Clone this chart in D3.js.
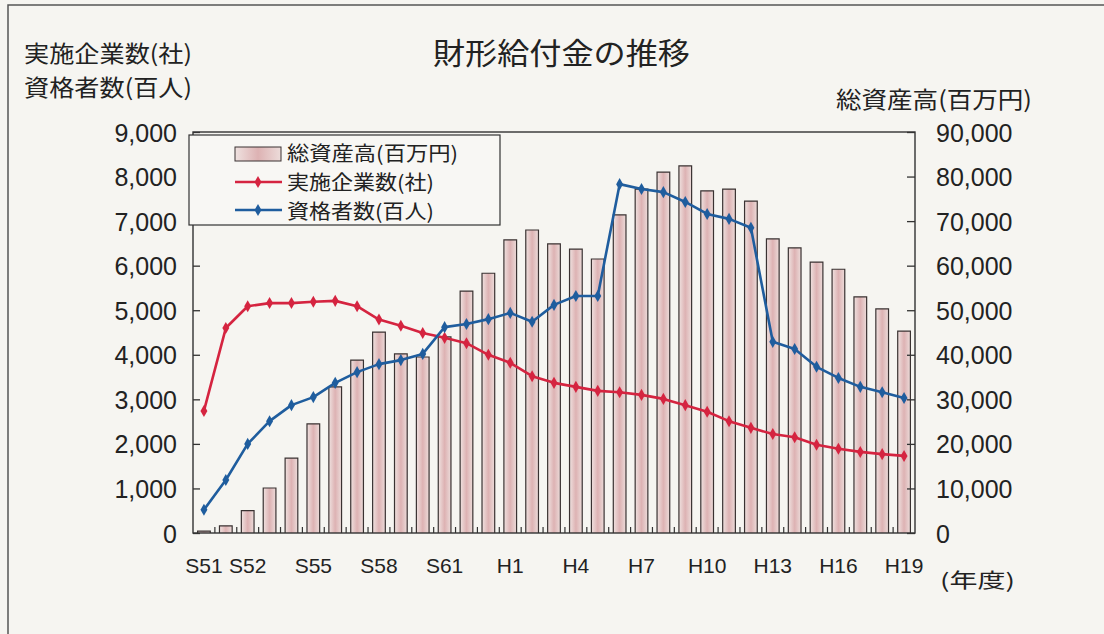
<!DOCTYPE html>
<html>
<head>
<meta charset="utf-8">
<script src="https://cdn.jsdelivr.net/npm/d3@7"></script>
<style>
  html, body { margin: 0; padding: 0; background: #f6f5f1; }
  svg { display: block; }
  .jp { font-family: "Noto Sans CJK JP", "Noto Sans", sans-serif; fill: #222; }
  .num { font-family: "Liberation Sans", Arial, sans-serif; fill: #222; }
</style>
</head>
<body>
<div id="chart"></div>
<script>
// fiscal years (33 bars in the picture)
var years = ["S50", "S51", "S52", "S53", "S54", "S55", "S56", "S57", "S58", "S59", "S60",
  "S61", "S62", "S63", "H1", "H2", "H3", "H4", "H5", "H6", "H7", "H8", "H9", "H10",
  "H11", "H12", "H13", "H14", "H15", "H16", "H17", "H18", "H19"];

// labels printed under the axis, one per bar ("" = no label)
var yearLabels = ["S51", "", "S52", "", "", "S55", "", "", "S58", "", "", "S61", "", "",
  "H1", "", "", "H4", "", "", "H7", "", "", "H10", "", "", "H13", "", "", "H16", "", "", "H19"];

// 総資産高(百万円) - bars, right axis
var totalAssets = [400, 1600, 5000, 10100, 16800, 24500, 32800, 38800, 45100, 40200, 39500,
  44000, 54300, 58300, 65800, 68000, 64900, 63700, 61500, 71400, 77200, 81000, 82400, 76800,
  77200, 74500, 66000, 64000, 60800, 59200, 53000, 50300, 45300];

// 実施企業数(社) - red line, left axis
var companies = [2740, 4600, 5090, 5160, 5160, 5190, 5210, 5090, 4790, 4650, 4490,
  4380, 4260, 4000, 3820, 3520, 3370, 3280, 3190, 3160, 3100, 3010, 2870, 2720,
  2510, 2360, 2220, 2150, 1980, 1890, 1820, 1770, 1730];

// 資格者数(百人) - blue line, left axis
var members = [520, 1190, 2000, 2510, 2870, 3050, 3370, 3610, 3790, 3880, 4020,
  4620, 4690, 4800, 4940, 4740, 5120, 5320, 5320, 7830, 7720, 7650, 7430, 7160,
  7050, 6850, 4290, 4130, 3730, 3480, 3280, 3160, 3030];

var leftTicks = [0, 1000, 2000, 3000, 4000, 5000, 6000, 7000, 8000, 9000];
var rightTicks = [0, 10000, 20000, 30000, 40000, 50000, 60000, 70000, 80000, 90000];

var svgWidth = 1104;
var svgHeight = 634;
var plot = { left: 193, right: 915, top: 132, bottom: 533 };

var svg = d3.select("#chart")
  .append("svg")
  .attr("width", svgWidth)
  .attr("height", svgHeight);

svg.append("rect")
  .attr("width", svgWidth)
  .attr("height", svgHeight)
  .attr("fill", "#f6f5f1");

// scanned page border
svg.append("path")
  .attr("d", "M8,634 L8,5 L1104,5")
  .attr("fill", "none")
  .attr("stroke", "#555")
  .attr("stroke-width", 1.5);

// scales
var x = d3.scaleBand()
  .domain(years)
  .range([plot.left, plot.right])
  .paddingInner(0.42)
  .paddingOuter(0.21);

var yLeft = d3.scaleLinear()
  .domain([0, 9000])
  .range([plot.bottom, plot.top]);

var yRight = d3.scaleLinear()
  .domain([0, 90000])
  .range([plot.bottom, plot.top]);

// bar gradient
var defs = svg.append("defs");
var grad = defs.append("linearGradient")
  .attr("id", "barFill")
  .attr("x1", "0%").attr("x2", "100%").attr("y1", "0%").attr("y2", "0%");
grad.append("stop").attr("offset", "0%").attr("stop-color", "#efe2e0");
grad.append("stop").attr("offset", "50%").attr("stop-color", "#ddb2b3");
grad.append("stop").attr("offset", "100%").attr("stop-color", "#ecdcda");

// bars
var bars = svg.append("g");
bars.selectAll("rect")
  .data(totalAssets)
  .enter()
  .append("rect")
  .attr("x", (d, i) => x(years[i]))
  .attr("y", d => yRight(d))
  .attr("width", x.bandwidth())
  .attr("height", d => plot.bottom - yRight(d))
  .attr("fill", "url(#barFill)");

bars.selectAll("path")
  .data(totalAssets)
  .enter()
  .append("path")
  .attr("d", function (d, i) {
    var x0 = x(years[i]), x1 = x0 + x.bandwidth(), y0 = yRight(d);
    return `M${x0},${plot.bottom} L${x0},${y0} L${x1},${y0} L${x1},${plot.bottom}`;
  })
  .attr("fill", "none")
  .attr("stroke", "#3a3232")
  .attr("stroke-width", 1.2);

// plot frame
svg.append("rect")
  .attr("x", plot.left)
  .attr("y", plot.top)
  .attr("width", plot.right - plot.left)
  .attr("height", plot.bottom - plot.top)
  .attr("fill", "none")
  .attr("stroke", "#333")
  .attr("stroke-width", 1.4);

// left axis
var leftAxis = svg.append("g")
  .attr("transform", `translate(${plot.left},0)`)
  .call(d3.axisLeft(yLeft).tickValues(leftTicks).tickSize(-7).tickPadding(16)
    .tickFormat(d3.format(",")));
leftAxis.select(".domain").remove();
leftAxis.selectAll("line").attr("stroke", "#333").attr("stroke-width", 1.3);
leftAxis.selectAll("text")
  .attr("class", "num")
  .attr("font-size", 25)
  .attr("dy", "0.36em");

// right axis
var rightAxis = svg.append("g")
  .attr("transform", `translate(${plot.right},0)`)
  .call(d3.axisRight(yRight).tickValues(rightTicks).tickSize(-8).tickPadding(21)
    .tickFormat(d3.format(",")));
rightAxis.select(".domain").remove();
rightAxis.selectAll("line").attr("stroke", "#333").attr("stroke-width", 1.3);
rightAxis.selectAll("text")
  .attr("class", "num")
  .attr("font-size", 25)
  .attr("dy", "0.36em");

// small ticks between bars on the x axis
var step = x.step();
var boundaries = years.map(d => x(d) + x.bandwidth() / 2 - step / 2);
svg.append("g")
  .selectAll("line")
  .data(boundaries.slice(1))
  .enter()
  .append("line")
  .attr("x1", d => d).attr("x2", d => d)
  .attr("y1", plot.bottom).attr("y2", plot.bottom - 6)
  .attr("stroke", "#333")
  .attr("stroke-width", 1.2);

// x labels
var bottomAxis = svg.append("g")
  .attr("transform", `translate(0,${plot.bottom})`)
  .call(d3.axisBottom(x).tickSize(0).tickPadding(25)
    .tickFormat((d, i) => yearLabels[i]));
bottomAxis.select(".domain").remove();
bottomAxis.selectAll("text")
  .attr("class", "num")
  .attr("font-size", 21);

// lines
var diamond = d3.symbol().type(d3.symbolDiamond).size(42);

function drawSeries(values, color) {
  var line = d3.line()
    .x((d, i) => x(years[i]) + x.bandwidth() / 2)
    .y(d => yLeft(d));
  svg.append("path")
    .datum(values)
    .attr("d", line)
    .attr("fill", "none")
    .attr("stroke", color)
    .attr("stroke-width", 2.6)
    .attr("stroke-linejoin", "round");
  svg.append("g")
    .selectAll("path")
    .data(values)
    .enter()
    .append("path")
    .attr("d", diamond)
    .attr("transform", (d, i) => `translate(${x(years[i]) + x.bandwidth() / 2},${yLeft(d)})`)
    .attr("fill", color);
}

drawSeries(companies, "#d52440");
drawSeries(members, "#1f5d9e");

// legend
var legend = svg.append("g");
legend.append("rect")
  .attr("x", 189).attr("y", 135)
  .attr("width", 311).attr("height", 90)
  .attr("fill", "#f8f7f4")
  .attr("stroke", "#333")
  .attr("stroke-width", 1.2);

legend.append("rect")
  .attr("x", 235).attr("y", 147)
  .attr("width", 46).attr("height", 14)
  .attr("fill", "url(#barFill)")
  .attr("stroke", "#3a3232")
  .attr("stroke-width", 1);

var legendLines = [
  { y: 182, color: "#d52440" },
  { y: 210, color: "#1f5d9e" }
];
legendLines.forEach(function (l) {
  legend.append("line")
    .attr("x1", 235).attr("x2", 282)
    .attr("y1", l.y).attr("y2", l.y)
    .attr("stroke", l.color)
    .attr("stroke-width", 2.6);
  legend.append("path")
    .attr("d", diamond)
    .attr("transform", `translate(258,${l.y})`)
    .attr("fill", l.color);
});

var legendTexts = [
  { text: "総資産高(百万円)", y: 161, w: 171 },
  { text: "実施企業数(社)", y: 190, w: 147 },
  { text: "資格者数(百人)", y: 219, w: 147 }
];
legendTexts.forEach(function (t) {
  legend.append("text")
    .attr("class", "jp")
    .attr("x", 287).attr("y", t.y)
    .attr("font-size", 20)
    .attr("textLength", t.w)
    .attr("lengthAdjust", "spacingAndGlyphs")
    .text(t.text);
});

// titles
svg.append("text")
  .attr("class", "jp")
  .attr("x", 433).attr("y", 64)
  .attr("font-size", 30)
  .attr("textLength", 257)
  .attr("lengthAdjust", "spacingAndGlyphs")
  .text("財形給付金の推移");

svg.append("text")
  .attr("class", "jp")
  .attr("x", 24).attr("y", 62)
  .attr("font-size", 23)
  .attr("textLength", 168)
  .attr("lengthAdjust", "spacingAndGlyphs")
  .text("実施企業数(社)");

svg.append("text")
  .attr("class", "jp")
  .attr("x", 24).attr("y", 96)
  .attr("font-size", 23)
  .attr("textLength", 168)
  .attr("lengthAdjust", "spacingAndGlyphs")
  .text("資格者数(百人)");

svg.append("text")
  .attr("class", "jp")
  .attr("x", 836).attr("y", 108)
  .attr("font-size", 23)
  .attr("textLength", 196)
  .attr("lengthAdjust", "spacingAndGlyphs")
  .text("総資産高(百万円)");

svg.append("text")
  .attr("class", "jp")
  .attr("x", 940).attr("y", 588)
  .attr("font-size", 20)
  .attr("textLength", 75)
  .attr("lengthAdjust", "spacingAndGlyphs")
  .text("(年度)");
</script>
</body>
</html>
